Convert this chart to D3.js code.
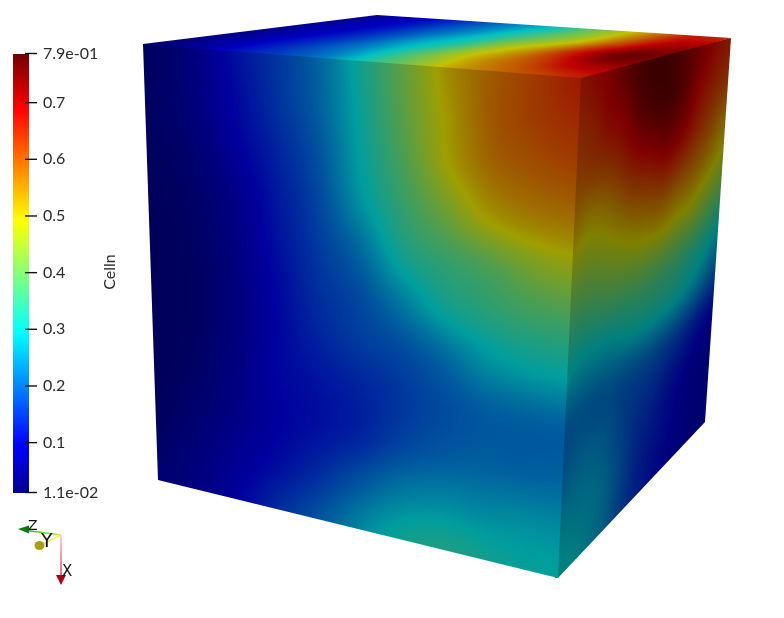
<!DOCTYPE html>
<html><head><meta charset="utf-8">
<script src="https://cdn.jsdelivr.net/npm/d3@7"></script>
<style>html,body{margin:0;padding:0;background:#fff;overflow:hidden}
#wrap{position:relative;width:784px;height:618px}
canvas,svg{position:absolute;left:0;top:0}</style></head>
<body><div id="wrap"><canvas id="cube" width="784" height="618"></canvas><svg id="ui" width="784" height="618"></svg></div>
<script>
// Cell values: rows run from each face's upper edge down, columns left to right
const frontValues = [
 [.02,.05,.11,.16,.22,.32,.42,.52,.58,.62,.66],
 [.02,.05,.10,.155,.215,.31,.41,.505,.58,.615,.635],
 [.02,.04,.09,.14,.20,.30,.39,.49,.56,.585,.60],
 [.015,.03,.07,.125,.185,.28,.36,.43,.50,.53,.54],
 [.012,.025,.06,.115,.17,.23,.32,.36,.39,.43,.45],
 [.012,.02,.055,.105,.155,.19,.25,.31,.34,.36,.365],
 [.012,.02,.055,.10,.14,.17,.19,.225,.27,.29,.295],
 [.012,.025,.06,.10,.12,.14,.165,.19,.21,.215,.215],
 [.015,.035,.065,.095,.115,.14,.18,.205,.215,.215,.22],
 [.025,.05,.08,.11,.15,.20,.245,.265,.265,.27,.27],
 [.04,.06,.095,.15,.20,.26,.31,.33,.32,.305,.30]
];
const topValues = [
 [.055,.08,.12,.17,.23,.29,.38,.47,.57,.66,.65],
 [.06,.08,.12,.18,.24,.32,.40,.48,.60,.70,.73],
 [.04,.075,.12,.18,.26,.33,.45,.54,.66,.76,.76],
 [.035,.07,.12,.18,.25,.35,.46,.55,.62,.70,.72],
 [.02,.05,.11,.16,.22,.32,.42,.52,.58,.62,.66]
];
const rightValues = [
 [.66,.68,.70,.74,.77,.785,.78,.755,.72,.68,.65],
 [.635,.65,.68,.70,.745,.77,.775,.75,.69,.65,.62],
 [.60,.61,.62,.645,.68,.70,.72,.695,.645,.60,.55],
 [.54,.52,.53,.56,.59,.605,.62,.60,.57,.53,.48],
 [.45,.44,.45,.47,.49,.505,.51,.49,.475,.43,.39],
 [.365,.36,.37,.38,.385,.39,.385,.375,.355,.33,.29],
 [.295,.28,.28,.285,.30,.31,.31,.305,.285,.25,.20],
 [.215,.215,.21,.21,.20,.20,.195,.18,.16,.13,.11],
 [.22,.235,.235,.22,.19,.165,.15,.125,.105,.085,.075],
 [.27,.265,.26,.24,.20,.155,.13,.11,.09,.075,.07],
 [.30,.295,.27,.24,.19,.15,.12,.10,.085,.07,.07]
];
const tickValues = [.785,.7,.6,.5,.4,.3,.2,.1,.012];
const tickLabels = ["7.9e-01","0.7","0.6","0.5","0.4","0.3","0.2","0.1","1.1e-02"];
const colourStops = [.012,.097,.295,.493,.69,.785];
const colourNames = ["#00008f","#0000ff","#00ffff","#ffff00","#ff0000","#730000"];
const barLabel = "Celln";
const axisLabels = ["X","Y","Z"];

const color = d3.scaleLinear().domain(colourStops).range(colourNames).clamp(true);
const lut = d3.range(1024).map(i => d3.rgb(color(.012 + (.785-.012)*i/1023)));
const lutIndex = d3.scaleLinear().domain([.012,.785]).range([0,1023]).clamp(true);

const A=[143,44],B=[581,78],C=[731,38],D=[377,15],E=[705,422],F=[558,578];
const faces = [
 {name:"right", grid:rightValues, q:[B,C,E,F], shade:.5,  clip:[[578,74],C,E,F,[555,578]]},
 {name:"top",   grid:topValues,   q:[D,C,B,A], shade:.76, clip:[D,C,B,[581,81],[143.2,47],A]},
 {name:"front", grid:frontValues, q:[A,B,F,[158,480]], shade:.62, clip:[A,B,F,[158,480]]}
];

// Catmull-Rom sample of a value table at fractional row / column
function cr(a,b,c,d,t){return .5*(2*b+(c-a)*t+(2*a-5*b+4*c-d)*t*t+(3*b-a-3*c+d)*t*t*t);}
function sample(g,u,v){
  const rows=g.length,cols=g[0].length;
  const x=d3.scaleLinear().domain([0,1]).range([0,cols-1]).clamp(true)(u);
  const y=d3.scaleLinear().domain([0,1]).range([0,rows-1]).clamp(true)(v);
  const i=Math.min(cols-2,Math.floor(x)),j=Math.min(rows-2,Math.floor(y));
  const tx=x-i,ty=y-j,vals=[];
  for(let r=-1;r<=2;r++){
    const row=g[Math.max(0,Math.min(rows-1,j+r))];
    const p=k=>row[Math.max(0,Math.min(cols-1,k))];
    vals.push(cr(p(i-1),p(i),p(i+1),p(i+2),tx));
  }
  return cr(vals[0],vals[1],vals[2],vals[3],ty);
}
function invert(q,px,py){
  let u=.5,v=.5;
  for(let n=0;n<6;n++){
    const fx=(1-v)*((1-u)*q[0][0]+u*q[1][0])+v*((1-u)*q[3][0]+u*q[2][0])-px;
    const fy=(1-v)*((1-u)*q[0][1]+u*q[1][1])+v*((1-u)*q[3][1]+u*q[2][1])-py;
    const xu=(1-v)*(q[1][0]-q[0][0])+v*(q[2][0]-q[3][0]);
    const yu=(1-v)*(q[1][1]-q[0][1])+v*(q[2][1]-q[3][1]);
    const xv=(1-u)*(q[3][0]-q[0][0])+u*(q[2][0]-q[1][0]);
    const yv=(1-u)*(q[3][1]-q[0][1])+u*(q[2][1]-q[1][1]);
    const det=xu*yv-xv*yu;
    u-=(yv*fx-xv*fy)/det; v-=(xu*fy-yu*fx)/det;
  }
  return [Math.max(0,Math.min(1,u)),Math.max(0,Math.min(1,v))];
}
const ctx=d3.select("#cube").node().getContext("2d");
faces.forEach(f=>{
  const xs=f.clip.map(p=>p[0]),ys=f.clip.map(p=>p[1]);
  const x0=Math.floor(d3.min(xs))-1,x1=Math.ceil(d3.max(xs))+1,y0=Math.floor(d3.min(ys))-1,y1=Math.ceil(d3.max(ys))+1;
  const w=x1-x0,h=y1-y0,off=document.createElement("canvas");off.width=w;off.height=h;
  const oc=off.getContext("2d"),im=oc.createImageData(w,h);
  for(let py=0;py<h;py++)for(let px=0;px<w;px++){
    const [u,v]=invert(f.q,x0+px+.5,y0+py+.5);
    const c=lut[Math.round(lutIndex(sample(f.grid,u,v)))],k=(py*w+px)*4;
    im.data[k]=c.r*f.shade;im.data[k+1]=c.g*f.shade;im.data[k+2]=c.b*f.shade;im.data[k+3]=255;
  }
  oc.putImageData(im,0,0);
  ctx.save();ctx.beginPath();
  f.clip.forEach((p,i)=>i?ctx.lineTo(p[0],p[1]):ctx.moveTo(p[0],p[1]));
  ctx.closePath();ctx.clip();ctx.drawImage(off,x0,y0);ctx.restore();
});

// Colour bar
const svg=d3.select("#ui");
const barY=d3.scaleLinear().domain([.012,.785]).range([492,54]);
const stepV=(.785-.012)/219;
const barSteps=d3.range(219).map(i=>.012+stepV*i);
svg.append("g").attr("shape-rendering","crispEdges").selectAll("rect").data(barSteps).join("rect")
 .attr("x",13).attr("width",16)
 .attr("y",d=>barY(d+stepV)).attr("height",barY(0)-barY(stepV)+1)
 .attr("fill",d=>color(d+stepV/2));
const axis=d3.axisRight(barY).tickValues(tickValues).tickSize(12).tickPadding(6)
 .tickFormat((d,i)=>tickLabels[i]);
const ag=svg.append("g").attr("transform","translate(25,0)").call(axis);
ag.select(".domain").remove();
ag.selectAll("line").attr("stroke","#111").attr("stroke-width",1.4);
ag.selectAll("text").attr("font-family","Lato").attr("font-size",16).attr("fill","#2b2b2b");
ag.selectAll(".tick").filter(d=>d===.785).select("line").attr("y1",-1).attr("y2",-1);
ag.selectAll(".tick").filter(d=>d===.785).select("text").attr("dy","0.25em");
ag.selectAll(".tick").filter(d=>d===.012).select("text").attr("dy","0.32em");
svg.append("text").text(barLabel).attr("transform","translate(115,272) rotate(-90)")
 .attr("text-anchor","middle").attr("font-family","Lato").attr("font-size",16).attr("fill","#2b2b2b");

// Orientation triad
const defs=svg.append("defs");
function grad(id,c0,c1,x1,y1,x2,y2){
  const g=defs.append("linearGradient").attr("id",id).attr("gradientUnits","userSpaceOnUse")
   .attr("x1",x1).attr("y1",y1).attr("x2",x2).attr("y2",y2);
  g.append("stop").attr("offset",0).attr("stop-color",c0);
  g.append("stop").attr("offset",1).attr("stop-color",c1);
}
grad("gx","#ffb0b0","#e0102a",61,535,61,575);
grad("gz","#b6f060","#1fc01f",61,535,28,531);
const tri=svg.append("g");
tri.append("path").attr("d",d3.line()([[61,535],[61,576]])).attr("stroke","url(#gx)").attr("stroke-width",1.2).attr("fill","none");
tri.append("path").attr("d",d3.line()([[61,535],[27,530.5]])).attr("stroke","url(#gz)").attr("stroke-width",1.5).attr("fill","none");
tri.append("path").attr("d",d3.line()([[61,535],[41,545]])).attr("stroke","#f0ee20").attr("stroke-width",1.2).attr("fill","none");
tri.append("path").attr("d",d3.line()([[56,575],[66,575],[61,585]])+"Z").attr("fill","#a80018");
tri.append("path").attr("d",d3.line()([[18,529],[29,525.5],[29,533.5]])+"Z").attr("fill","#0a7a0a");
tri.append("ellipse").attr("cx",39.5).attr("cy",545.5).attr("rx",5).attr("ry",4.5).attr("fill","#a8a010");
const lab=[[62,576],[41,547],[28,530]],sz=[15,19,14];
tri.selectAll("text").data(axisLabels).join("text").text(d=>d)
 .attr("x",(d,i)=>lab[i][0]).attr("y",(d,i)=>lab[i][1]).attr("font-size",(d,i)=>sz[i])
 .attr("font-family","DejaVu Sans").attr("fill","#111");
</script></body></html>
